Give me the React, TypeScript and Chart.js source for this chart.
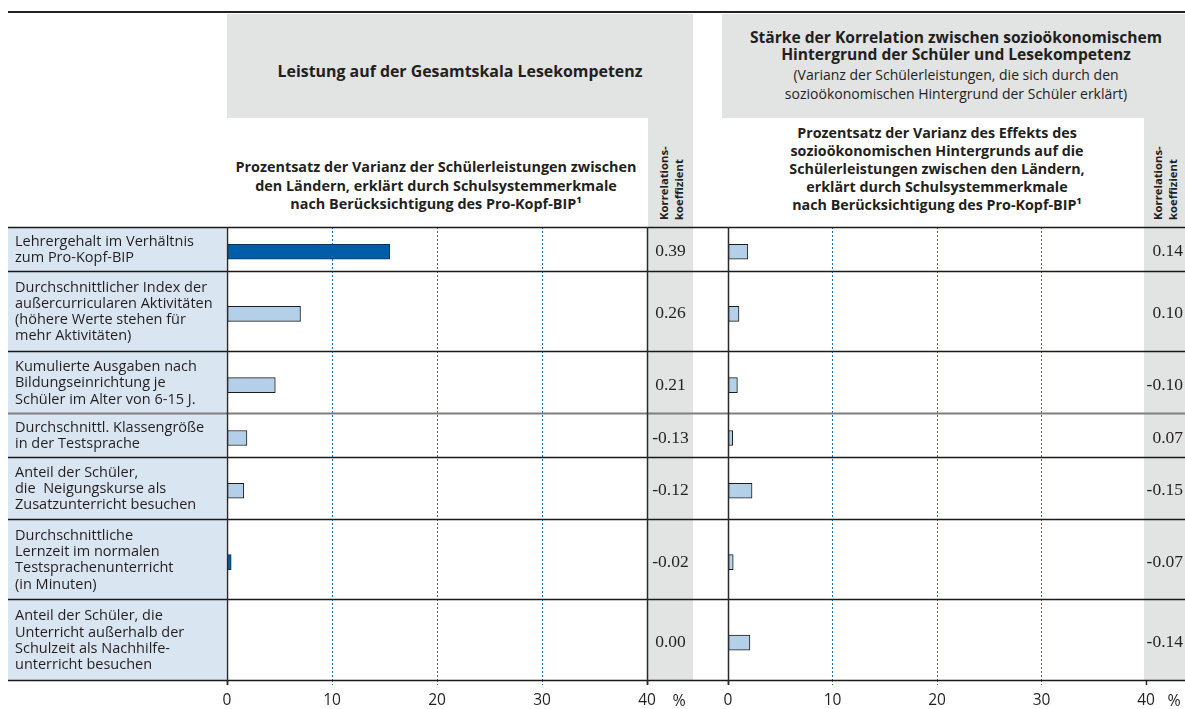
import React, { useEffect, useRef } from "react";
import { Chart, registerables } from "chart.js";

Chart.register(...registerables);

// ---------------- DATA ----------------
const categories: string[][] = [
  ["Lehrergehalt im Verhältnis", "zum Pro-Kopf-BIP"],
  ["Durchschnittlicher Index der", "außercurricularen Aktivitäten", "(höhere Werte stehen für", "mehr Aktivitäten)"],
  ["Kumulierte Ausgaben nach", "Bildungseinrichtung je", "Schüler im Alter von 6-15 J."],
  ["Durchschnittl. Klassengröße", "in der Testsprache"],
  ["Anteil der Schüler,", "die  Neigungskurse als", "Zusatzunterricht besuchen"],
  ["Durchschnittliche", "Lernzeit im normalen", "Testsprachenunterricht", "(in Minuten)"],
  ["Anteil der Schüler, die", "Unterricht außerhalb der", "Schulzeit als Nachhilfe-", "unterricht besuchen"],
];

const performanceShare = [15.5, 7.0, 4.6, 1.9, 1.6, 0.4, 0.0];
const performanceSignificant = [true, false, false, false, false, true, false];
const performanceCorrelation = ["0.39", "0.26", "0.21", "-0.13", "-0.12", "-0.02", "0.00"];

const equityShare = [1.9, 1.05, 0.9, 0.45, 2.3, 0.5, 2.1];
const equitySignificant = [false, false, false, false, false, false, false];
const equityCorrelation = ["0.14", "0.10", "-0.10", "0.07", "-0.15", "-0.07", "-0.14"];

const axisTicks = [0, 10, 20, 30, 40];
const axisUnit = "%";

const leftHeader = "Leistung auf der Gesamtskala Lesekompetenz";
const rightHeaderBold = ["Stärke der Korrelation zwischen sozioökonomischem", "Hintergrund der Schüler und Lesekompetenz"];
const rightHeaderNote = ["(Varianz der Schülerleistungen, die sich durch den", "sozioökonomischen Hintergrund der Schüler erklärt)"];
const leftSubHeader = [
  "Prozentsatz der Varianz der Schülerleistungen zwischen",
  "den Ländern, erklärt durch Schulsystemmerkmale",
  "nach Berücksichtigung des Pro-Kopf-BIP¹",
];
const rightSubHeader = [
  "Prozentsatz der Varianz des Effekts des",
  "sozioökonomischen Hintergrunds auf die",
  "Schülerleistungen zwischen den Ländern,",
  "erklärt durch Schulsystemmerkmale",
  "nach Berücksichtigung des Pro-Kopf-BIP¹",
];
const corrHeader = ["Korrelations-", "koeffizient"];

// ---------------- STYLE ----------------
const FONT = "'Open Sans', Lato, sans-serif";
const SERIF = "'Liberation Serif', 'DejaVu Serif', serif";
const GREY = "#e2e3e3";
const LABEL_BG = "#d9e5f1";
const GRID_BLUE = "#1f6fc1";
const DARK_BAR = "#005ea8";
const LIGHT_BAR = "#b4d0e8";
const INK = "#231f20";
const ROW_PAD = 0.35; // extra row padding, in label-line units

// row structure derived from label line counts
const rowSpans = categories.map((c) => c.length + ROW_PAD);
const rowStarts = rowSpans.map((_, i) => rowSpans.slice(0, i).reduce((a, b) => a + b, 0));
const rowTotal = rowSpans.reduce((a, b) => a + b, 0);
const rowCenters = rowStarts.map((s, i) => s + rowSpans[i] / 2);

type PanelProps = {
  left: number;
  width: number;
  height: number;
  padLeft: number;
  padRight: number;
  values: number[];
  significant: boolean[];
  correlation: string[];
  showLabels: boolean;
  endLine: boolean;
  corrAlign: "center" | "right";
  corrOffset: number;
  percentOffset: number;
  lineStart: number;
};

function BarPanel(p: PanelProps) {
  const ref = useRef<HTMLCanvasElement>(null);
  useEffect(() => {
    const minV = axisTicks[0];
    const maxV = axisTicks[axisTicks.length - 1];
    const isEnd = (v: number) => v === minV || v === maxV;

    const panelPlugin = {
      id: "panelDecor",
      beforeDraw(chart: any) {
        const { ctx, chartArea, scales } = chart;
        const y = scales.y;
        if (p.showLabels) {
          const top = y.getPixelForValue(0);
          const bottom = y.getPixelForValue(rowTotal);
          ctx.save();
          ctx.fillStyle = LABEL_BG;
          ctx.fillRect(8, top, chartArea.left - 9, bottom - top);
          ctx.restore();
        }
      },
      beforeDatasetsDraw(chart: any) {
        chart.ctx.save();
        chart.ctx.translate(0, 3);
      },
      afterDatasetsDraw(chart: any) {
        chart.ctx.restore();
      },
      afterDraw(chart: any) {
        const { ctx, chartArea, scales, width } = chart;
        const x = scales.x;
        const y = scales.y;
        ctx.save();
        const bounds = [...rowStarts, rowTotal];
        bounds.forEach((b, i) => {
          const py = Math.round(y.getPixelForValue(b)) + 0.5;
          ctx.beginPath();
          ctx.strokeStyle = i === 3 ? "#7f7f7f" : "#1a1a1a";
          ctx.lineWidth = i === 3 ? 2.2 : 1.3;
          ctx.moveTo(p.lineStart, py);
          ctx.lineTo(width, py);
          ctx.stroke();
        });
        const vlines = p.endLine ? [minV, maxV] : [minV];
        vlines.forEach((v) => {
          const px = Math.round(x.getPixelForValue(v)) + 0.5;
          ctx.beginPath();
          ctx.strokeStyle = "#2a2a2a";
          ctx.lineWidth = 1.5;
          ctx.moveTo(px, chartArea.top);
          ctx.lineTo(px, chartArea.bottom + 5);
          ctx.stroke();
        });
        if (p.showLabels) {
          ctx.fillStyle = INK;
          ctx.font = `14.5px ${FONT}`;
          ctx.textAlign = "left";
          ctx.textBaseline = "middle";
          categories.forEach((lines, i) => {
            const cy = y.getPixelForValue(rowCenters[i]) + 1;
            lines.forEach((t, j) => {
              ctx.fillText(t, 15, cy + (j - (lines.length - 1) / 2) * 16.3);
            });
          });
        }
        ctx.fillStyle = INK;
        ctx.font = `17.5px ${SERIF}`;
        ctx.textAlign = p.corrAlign;
        ctx.textBaseline = "middle";
        const cx = x.getPixelForValue(maxV) + p.corrOffset;
        p.correlation.forEach((t, i) => {
          ctx.fillText(t, cx, y.getPixelForValue(rowCenters[i]) + 3);
        });
        ctx.font = `16px ${FONT}`;
        ctx.textAlign = "center";
        ctx.textBaseline = "middle";
        ctx.fillText(axisUnit, x.getPixelForValue(maxV) + p.percentOffset, chartArea.bottom + 21);
        ctx.restore();
      },
    };

    const chart = new Chart(ref.current as HTMLCanvasElement, {
      type: "bar",
      data: {
        datasets: [
          {
            data: p.values.map((v, i) => ({ x: v, y: rowCenters[i] })) as any,
            backgroundColor: p.significant.map((s) => (s ? DARK_BAR : LIGHT_BAR)),
            borderColor: p.significant.map((s) => (s ? "#0b3660" : "#1c1c1c")),
            borderWidth: 1,
            borderSkipped: false,
            barThickness: 15,
          } as any,
        ],
      },
      options: {
        indexAxis: "y",
        responsive: false,
        animation: false,
        events: [],
        layout: { padding: { left: p.padLeft, right: p.padRight, top: 227, bottom: 0 } },
        plugins: { legend: { display: false }, tooltip: { enabled: false } },
        scales: {
          x: {
            type: "linear",
            position: "bottom",
            min: minV,
            max: maxV,
            afterBuildTicks: (s: any) => {
              s.ticks = axisTicks.map((v) => ({ value: v }));
            },
            afterFit: (s: any) => {
              s.height = 29;
            },
            ticks: {
              autoSkip: false,
              maxRotation: 0,
              padding: 6,
              color: INK,
              font: { family: FONT, size: 15.5 },
              callback: (v: any) => String(v),
            },
            grid: {
              color: (c: any) => (c.tick && !isEnd(c.tick.value) ? GRID_BLUE : "rgba(0,0,0,0)"),
              lineWidth: 1,
              drawTicks: true,
              tickLength: 5,
              tickColor: (c: any) => (c.tick && isEnd(c.tick.value) ? "#2a2a2a" : GRID_BLUE),
              tickWidth: (c: any) => (c.tick && isEnd(c.tick.value) ? 1.5 : 1),
              tickBorderDash: (c: any) => (c.tick && isEnd(c.tick.value) ? [] : [2, 2]),
            } as any,
            border: { display: false, dash: [2, 2] },
          },
          y: {
            type: "linear",
            min: 0,
            max: rowTotal,
            reverse: true,
            offset: false,
            display: false,
          },
        },
      } as any,
      plugins: [panelPlugin],
    });
    return () => chart.destroy();
  }, []);
  return (
    <canvas
      ref={ref}
      width={p.width}
      height={p.height}
      style={{ position: "absolute", left: p.left, top: 0, width: p.width, height: p.height, display: "block" }}
    />
  );
}

const abs = (l: number, t: number, w: number, h: number, extra: any = {}) => ({
  position: "absolute" as const,
  left: l,
  top: t,
  width: w,
  height: h,
  ...extra,
});

function VerticalHeader({ left }: { left: number }) {
  return (
    <div
      style={abs(left, 120, 30, 100, {
        writingMode: "vertical-rl",
        transform: "rotate(180deg)",
        fontFamily: FONT,
        fontWeight: 700,
        fontSize: 11.3,
        lineHeight: "14.5px",
        color: INK,
        textAlign: "left",
      })}
    >
      {corrHeader.map((t, i) => (
        <div key={i}>{t}</div>
      ))}
    </div>
  );
}

export default function App() {
  return (
    <div
      style={{
        position: "fixed",
        left: 0,
        top: 0,
        width: 1185,
        height: 709,
        background: "#fff",
        overflow: "hidden",
        fontFamily: FONT,
        color: INK,
      }}
    >
      <div style={abs(8, 11, 1177, 2, { background: "#222" })} />
      <div style={abs(227, 14, 466, 104, { background: GREY })} />
      <div style={abs(648, 14, 45, 666, { background: GREY })} />
      <div style={abs(722, 14, 463, 104, { background: GREY })} />
      <div style={abs(1144, 14, 41, 666, { background: GREY })} />

      <div
        style={abs(227, 60, 466, 22, {
          textAlign: "center",
          fontWeight: 700,
          fontSize: 15.9,
          lineHeight: "22px",
        })}
      >
        {leftHeader}
      </div>

      <div style={abs(727, 29, 458, 80, { textAlign: "center" })}>
        {rightHeaderBold.map((t, i) => (
          <div key={"b" + i} style={{ fontWeight: 700, fontSize: 15.6, lineHeight: "17px", whiteSpace: "nowrap" }}>
            {t}
          </div>
        ))}
        <div style={{ height: 2 }} />
        {rightHeaderNote.map((t, i) => (
          <div key={"n" + i} style={{ fontSize: 14, lineHeight: "19px", whiteSpace: "nowrap" }}>
            {t}
          </div>
        ))}
      </div>

      <div style={abs(217, 158, 438, 60, { textAlign: "center", fontWeight: 700, fontSize: 14.4, lineHeight: "18.5px", whiteSpace: "nowrap" })}>
        {leftSubHeader.map((t, i) => (
          <div key={i}>{t}</div>
        ))}
      </div>
      <div style={abs(718, 124, 438, 95, { textAlign: "center", fontWeight: 700, fontSize: 14.3, lineHeight: "18px", whiteSpace: "nowrap" })}>
        {rightSubHeader.map((t, i) => (
          <div key={i}>{t}</div>
        ))}
      </div>

      <VerticalHeader left={657} />
      <VerticalHeader left={1151} />

      <BarPanel
        left={0}
        width={710}
        height={709}
        padLeft={227}
        padRight={63}
        values={performanceShare}
        significant={performanceSignificant}
        correlation={performanceCorrelation}
        showLabels={true}
        endLine={true}
        corrAlign="center"
        corrOffset={23.5}
        percentOffset={32}
        lineStart={8}
      />
      <BarPanel
        left={710}
        width={475}
        height={709}
        padLeft={18}
        padRight={39}
        values={equityShare}
        significant={equitySignificant}
        correlation={equityCorrelation}
        showLabels={false}
        endLine={false}
        corrAlign="right"
        corrOffset={37}
        percentOffset={28}
        lineStart={0}
      />
    </div>
  );
}
